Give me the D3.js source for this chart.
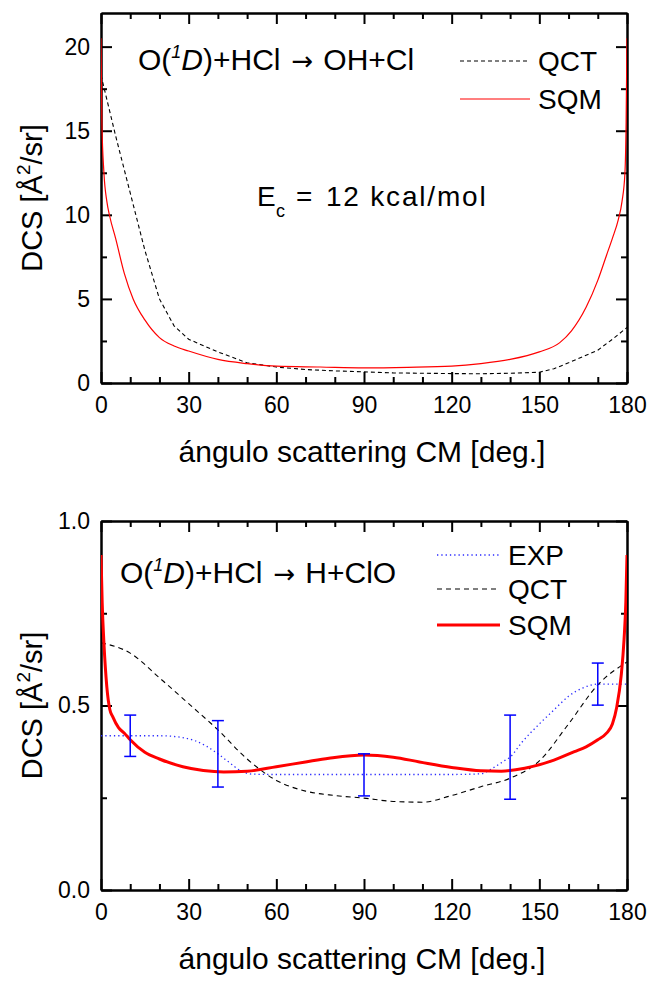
<!DOCTYPE html>
<html>
<head>
<meta charset="utf-8">
<script src="https://cdn.jsdelivr.net/npm/d3@7"></script>
<style>
  body { margin: 0; background: #fff; }
  svg { display: block; font-family: "Liberation Sans", Arial, sans-serif; }
  .axis path, .axis line { stroke: #000; stroke-width: 2px; }
  .axis text { font-size: 23px; fill: #000; font-family: "Liberation Sans", Arial, sans-serif; }
</style>
</head>
<body>
<div id="chart"></div>
<script>
// x axis (shared)
var angleTicks = [0, 30, 60, 90, 120, 150, 180];
var angleMinor = [10, 20, 40, 50, 70, 80, 100, 110, 130, 140, 160, 170];

// panel 1 : O(1D)+HCl -> OH+Cl
var topYTicks = [0, 5, 10, 15, 20];
var topYMinor = [2.5, 7.5, 12.5, 17.5];
var qctTopAngle = [0, 5, 10, 15, 20, 25, 30, 40, 50, 60, 70, 80, 90, 100, 110, 120, 130, 140, 150, 155, 160, 170, 175, 180];
var qctTopDcs   = [18.3, 14.7, 11.3, 7.9, 5.0, 3.4, 2.6, 1.85, 1.2, 0.95, 0.8, 0.72, 0.66, 0.6, 0.58, 0.56, 0.55, 0.58, 0.64, 0.85, 1.2, 1.95, 2.6, 3.3];
var sqmTopAngle = [0, 0.3, 1, 2, 3, 5, 8, 11, 15, 20, 25, 30, 40, 50, 60, 75, 90, 105, 120, 130, 140, 150, 157, 161, 166, 170, 173, 175, 177, 178.3, 179.3, 179.7, 180];
var sqmTopDcs   = [20.5, 15.5, 12.5, 10.8, 9.9, 8.6, 6.5, 5.0, 3.75, 2.7, 2.2, 1.9, 1.4, 1.15, 1.0, 0.95, 0.9, 0.93, 1.0, 1.15, 1.4, 1.85, 2.4, 3.1, 4.5, 6.1, 7.6, 8.6, 9.7, 10.8, 12.5, 15.5, 20.5];

// panel 2 : O(1D)+HCl -> H+ClO
var botYTicks = [0.0, 0.5, 1.0];
var botYMinor = [0.25, 0.75];
var expAngle = [0, 10, 20, 28, 32, 36, 40, 44, 48, 52, 60, 90, 120, 130, 134, 138, 140, 144, 150, 155, 160, 165, 170, 180];
var expDcs   = [0.418, 0.418, 0.418, 0.413, 0.405, 0.39, 0.369, 0.345, 0.322, 0.314, 0.313, 0.313, 0.313, 0.315, 0.33, 0.35, 0.36, 0.40, 0.45, 0.488, 0.525, 0.548, 0.558, 0.558];
var expBarAngle = [10, 40, 90, 140, 170];
var expBarDcs   = [0.418, 0.369, 0.312, 0.36, 0.558];
var expBarErr   = [0.056, 0.09, 0.057, 0.114, 0.057];
var qctBotAngle = [0, 10, 20, 30, 40, 50, 60, 70, 80, 90, 100, 110, 120, 130, 140, 150, 160, 170, 180];
var qctBotDcs   = [0.67, 0.642, 0.575, 0.505, 0.434, 0.355, 0.297, 0.268, 0.256, 0.249, 0.24, 0.238, 0.256, 0.28, 0.303, 0.35, 0.45, 0.556, 0.618];
var sqmBotAngle = [0, 0.4, 1, 2, 3, 4, 6, 8, 10, 15, 20, 28, 35, 42, 50, 60, 70, 78, 90, 100, 109, 120, 130, 137, 145, 155, 162, 166, 170, 173, 175, 176.5, 178, 179, 179.6, 180];
var sqmBotDcs   = [0.908, 0.78, 0.67, 0.55, 0.49, 0.47, 0.44, 0.425, 0.407, 0.373, 0.355, 0.334, 0.324, 0.32, 0.322, 0.334, 0.347, 0.357, 0.366, 0.36, 0.347, 0.332, 0.323, 0.322, 0.33, 0.352, 0.375, 0.388, 0.407, 0.425, 0.45, 0.496, 0.58, 0.68, 0.78, 0.908];

var W = 652, H = 982;
var left = 101, right = 627;

var svg = d3.select('#chart').append('svg')
  .attr('width', W)
  .attr('height', H);

var x = d3.scaleLinear().domain([0, 180]).range([left, right]);

function zip(a, b) {
  return a.map(function (d, i) { return [d, b[i]]; });
}

function drawPanel(top, bottom, yMax, yTicks, yMinor, fmt, id) {
  var y = d3.scaleLinear().domain([0, yMax]).range([bottom, top]);
  var g = svg.append('g');

  g.append('clipPath').attr('id', id)
    .append('rect')
    .attr('x', left).attr('y', top)
    .attr('width', right - left).attr('height', bottom - top);

  // major axes with labels
  g.append('g').attr('class', 'axis')
    .attr('transform', 'translate(0,' + bottom + ')')
    .call(d3.axisBottom(x).tickValues(angleTicks).tickSize(-11).tickSizeOuter(0).tickPadding(14).tickFormat(d3.format('d')));
  g.append('g').attr('class', 'axis')
    .attr('transform', 'translate(' + left + ',0)')
    .call(d3.axisLeft(y).tickValues(yTicks).tickSize(-11).tickSizeOuter(0).tickPadding(11).tickFormat(fmt));
  g.append('g').attr('class', 'axis')
    .attr('transform', 'translate(0,' + top + ')')
    .call(d3.axisTop(x).tickValues(angleTicks).tickSize(-11).tickSizeOuter(0).tickFormat(''));
  g.append('g').attr('class', 'axis')
    .attr('transform', 'translate(' + right + ',0)')
    .call(d3.axisRight(y).tickValues(yTicks).tickSize(-11).tickSizeOuter(0).tickFormat(''));

  // minor ticks
  g.append('g').attr('class', 'axis')
    .attr('transform', 'translate(0,' + bottom + ')')
    .call(d3.axisBottom(x).tickValues(angleMinor).tickSize(-6).tickSizeOuter(0).tickFormat(''));
  g.append('g').attr('class', 'axis')
    .attr('transform', 'translate(0,' + top + ')')
    .call(d3.axisTop(x).tickValues(angleMinor).tickSize(-6).tickSizeOuter(0).tickFormat(''));
  g.append('g').attr('class', 'axis')
    .attr('transform', 'translate(' + left + ',0)')
    .call(d3.axisLeft(y).tickValues(yMinor).tickSize(-6).tickSizeOuter(0).tickFormat(''));
  g.append('g').attr('class', 'axis')
    .attr('transform', 'translate(' + right + ',0)')
    .call(d3.axisRight(y).tickValues(yMinor).tickSize(-6).tickSizeOuter(0).tickFormat(''));

  // axis titles
  g.append('text')
    .attr('x', (left + right) / 2 - 2)
    .attr('y', bottom + 79)
    .attr('text-anchor', 'middle')
    .style('font-size', '30px')
    .text('ángulo scattering CM [deg.]');

  var yl = g.append('text')
    .attr('transform', 'translate(42,' + ((top + bottom) / 2) + ') rotate(-90)')
    .attr('text-anchor', 'middle')
    .style('font-size', '29px');
  yl.append('tspan').text('DCS [Å');
  yl.append('tspan').attr('dy', -12).style('font-size', '19px').text('2');
  yl.append('tspan').attr('dy', 12).text('/sr]');

  return { g: g, y: y };
}

function addLine(p, id, xs, ys, color, width, dash, curve) {
  var line = d3.line()
    .x(function (d) { return x(d[0]); })
    .y(function (d) { return p.y(d[1]); })
    .curve(curve);
  p.g.append('path')
    .datum(zip(xs, ys))
    .attr('clip-path', 'url(#' + id + ')')
    .attr('fill', 'none')
    .attr('stroke', color)
    .attr('stroke-width', width)
    .attr('stroke-dasharray', dash)
    .attr('d', line);
}

function reactionTitle(g, x0, y0, product) {
  var t = g.append('text')
    .attr('x', x0).attr('y', y0)
    .style('font-size', '30px');
  t.append('tspan').text('O(');
  t.append('tspan').attr('dy', -12).style('font-size', '18px').style('font-style', 'italic').text('1');
  t.append('tspan').attr('dy', 12).style('font-style', 'italic').text('D');
  t.append('tspan').text(')+HCl');
  t.append('tspan').attr('dx', 11).style('font-family', '"DejaVu Sans", sans-serif').style('font-size', '26px').text('\u2192');
  t.append('tspan').attr('dx', 10).text(product);
}

function legendRow(g, y0, label, color, width, dash, x1, x2) {
  g.append('line')
    .attr('x1', x1).attr('x2', x2)
    .attr('y1', y0).attr('y2', y0)
    .attr('stroke', color)
    .attr('stroke-width', width)
    .attr('stroke-dasharray', dash);
  g.append('text')
    .attr('x', x2 + 8).attr('y', y0 + 10)
    .style('font-size', '28px')
    .text(label);
}

// ---------- panel 1 ----------
var p1 = drawPanel(13, 383, 22, topYTicks, topYMinor, d3.format('d'), 'clip1');
addLine(p1, 'clip1', qctTopAngle, qctTopDcs, '#000', 1.1, '4,3', d3.curveLinear);
addLine(p1, 'clip1', sqmTopAngle, sqmTopDcs, '#ff0000', 1.2, null, d3.curveMonotoneX);

reactionTitle(p1.g, 138, 70, 'OH+Cl');
legendRow(p1.g, 61, 'QCT', '#000', 1.1, '4,3', 460, 530);
legendRow(p1.g, 99, 'SQM', '#ff0000', 1.2, null, 460, 530);

var ec = p1.g.append('text')
  .attr('y', 206)
  .style('font-size', '28px');
ec.append('tspan').attr('x', 257).text('E');
ec.append('tspan').attr('x', 276).attr('dy', 11).style('font-size', '18px').text('c');
ec.append('tspan').attr('x', 296).attr('dy', -11).text('=');
ec.append('tspan').attr('x', 326).style('letter-spacing', '1.8px').text('12 kcal/mol');

// ---------- panel 2 ----------
var p2 = drawPanel(521, 890, 1.0, botYTicks, botYMinor, d3.format('.1f'), 'clip2');
addLine(p2, 'clip2', expAngle, expDcs, '#2a2aff', 1.3, '1.3,3', d3.curveMonotoneX);
addLine(p2, 'clip2', qctBotAngle, qctBotDcs, '#000', 1.1, '5,4', d3.curveMonotoneX);
addLine(p2, 'clip2', sqmBotAngle, sqmBotDcs, '#ff0000', 3, null, d3.curveMonotoneX);

// error bars
var bars = p2.g.append('g').selectAll('g')
  .data(zip(expBarAngle, expBarDcs).map(function (d, i) { return { a: d[0], v: d[1], e: expBarErr[i] }; }))
  .enter().append('g')
  .attr('stroke', '#0000ff')
  .attr('stroke-width', 1.5);
bars.append('line')
  .attr('x1', function (d) { return x(d.a); })
  .attr('x2', function (d) { return x(d.a); })
  .attr('y1', function (d) { return p2.y(d.v - d.e); })
  .attr('y2', function (d) { return p2.y(d.v + d.e); });
bars.append('line')
  .attr('x1', function (d) { return x(d.a) - 6; })
  .attr('x2', function (d) { return x(d.a) + 6; })
  .attr('y1', function (d) { return p2.y(d.v - d.e); })
  .attr('y2', function (d) { return p2.y(d.v - d.e); });
bars.append('line')
  .attr('x1', function (d) { return x(d.a) - 6; })
  .attr('x2', function (d) { return x(d.a) + 6; })
  .attr('y1', function (d) { return p2.y(d.v + d.e); })
  .attr('y2', function (d) { return p2.y(d.v + d.e); });

reactionTitle(p2.g, 120, 583, 'H+ClO');
legendRow(p2.g, 555, 'EXP', '#2a2aff', 1.3, '1.3,3', 437, 500);
legendRow(p2.g, 589, 'QCT', '#000', 1.1, '5,4', 437, 500);
legendRow(p2.g, 625, 'SQM', '#ff0000', 3, null, 437, 500);
</script>
</body>
</html>
